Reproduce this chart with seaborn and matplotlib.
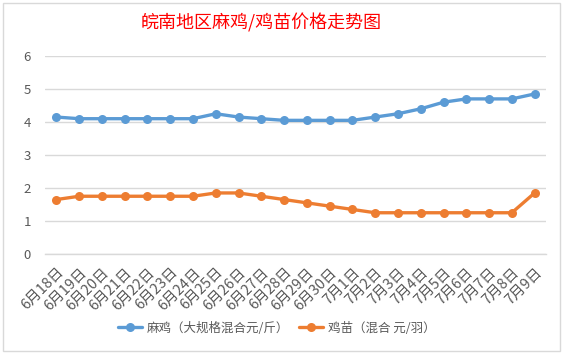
import matplotlib
matplotlib.use("Agg")
import matplotlib.pyplot as plt
import seaborn as sns
import pandas as pd
from matplotlib.patches import Rectangle
from matplotlib.lines import Line2D

dates = ["6月18日", "6月19日", "6月20日", "6月21日", "6月22日", "6月23日", "6月24日",
         "6月25日", "6月26日", "6月27日", "6月28日", "6月29日", "6月30日", "7月1日",
         "7月2日", "7月3日", "7月4日", "7月5日", "7月6日", "7月7日", "7月8日", "7月9日"]
maji = [4.15, 4.1, 4.1, 4.1, 4.1, 4.1, 4.1, 4.25, 4.15, 4.1, 4.05, 4.05, 4.05, 4.05,
        4.15, 4.25, 4.4, 4.6, 4.7, 4.7, 4.7, 4.85]
jimiao = [1.65, 1.75, 1.75, 1.75, 1.75, 1.75, 1.75, 1.85, 1.85, 1.75, 1.65, 1.55, 1.45,
          1.35, 1.25, 1.25, 1.25, 1.25, 1.25, 1.25, 1.25, 1.85]
series_names = ["麻鸡（大规格混合元/斤）", "鸡苗（混合 元/羽）"]
colors = ["#5B9BD5", "#ED7D31"]
title = "皖南地区麻鸡/鸡苗价格走势图"
yticks = [0, 1, 2, 3, 4, 5, 6]

sns.set_theme(style="white")
plt.rcParams["font.family"] = ["Noto Sans CJK SC", "DejaVu Sans"]

df = pd.DataFrame({
    "idx": list(range(len(dates))) * 2,
    "value": maji + jimiao,
    "series": [series_names[0]] * len(dates) + [series_names[1]] * len(dates),
})

fig = plt.figure(figsize=(5.63, 3.54), dpi=100)
ax = fig.add_axes([45 / 563, 1 - 254 / 354, (546 - 45) / 563, (254 - 56) / 354])

sns.lineplot(data=df, x="idx", y="value", hue="series", palette=colors,
             marker="o", markersize=6.5, markeredgewidth=0, linewidth=2.4,
             ax=ax, legend=False)

ax.set_xlim(-0.5, len(dates) - 0.5)
ax.set_ylim(0, 6)
ax.set_yticks(yticks)
ax.set_yticklabels([str(v) for v in yticks], color="#595959", fontsize=9.5)
ax.yaxis.grid(True, color="#D9D9D9", linewidth=1)
ax.set_axisbelow(True)
ax.set_xlabel("")
ax.set_ylabel("")

ax.set_xticks(range(len(dates)))
ax.set_xticklabels(dates, rotation=45, ha="right", rotation_mode="anchor",
                   color="#595959", fontsize=10.5)
ax.set_xticks([i - 0.5 for i in range(len(dates) + 1)], minor=True)
ax.tick_params(axis="x", which="major", length=0, pad=8)
ax.tick_params(axis="x", which="minor", length=4, color="#D9D9D9", width=1, direction="out")
ax.tick_params(axis="y", length=0, pad=10)

for s in ["top", "right", "left"]:
    ax.spines[s].set_visible(False)
ax.spines["bottom"].set_color("#D9D9D9")
ax.spines["bottom"].set_linewidth(1)

fig.text(261.5 / 563, 1 - 23 / 354, title, color="#FF0000", fontsize=13,
         fontweight="medium", ha="center", va="center")

handles = [Line2D([], [], color=c, marker="o", markersize=6.5, markeredgewidth=0,
                  linewidth=2.4) for c in colors]
fig.legend(handles, series_names, loc="center", bbox_to_anchor=(0.492, 1 - 328 / 354),
           ncol=2, frameon=False, fontsize=9, labelcolor="#595959",
           handlelength=1.9, columnspacing=0.8, handletextpad=0.4)

fig.patches.append(Rectangle((2.5 / 563, 1 - 351 / 354), (560 - 2.5) / 563,
                             (351 - 2.5) / 354, transform=fig.transFigure,
                             fill=False, edgecolor="#D9D9D9", linewidth=1))

fig.savefig("out.png", dpi=100, facecolor="white")
